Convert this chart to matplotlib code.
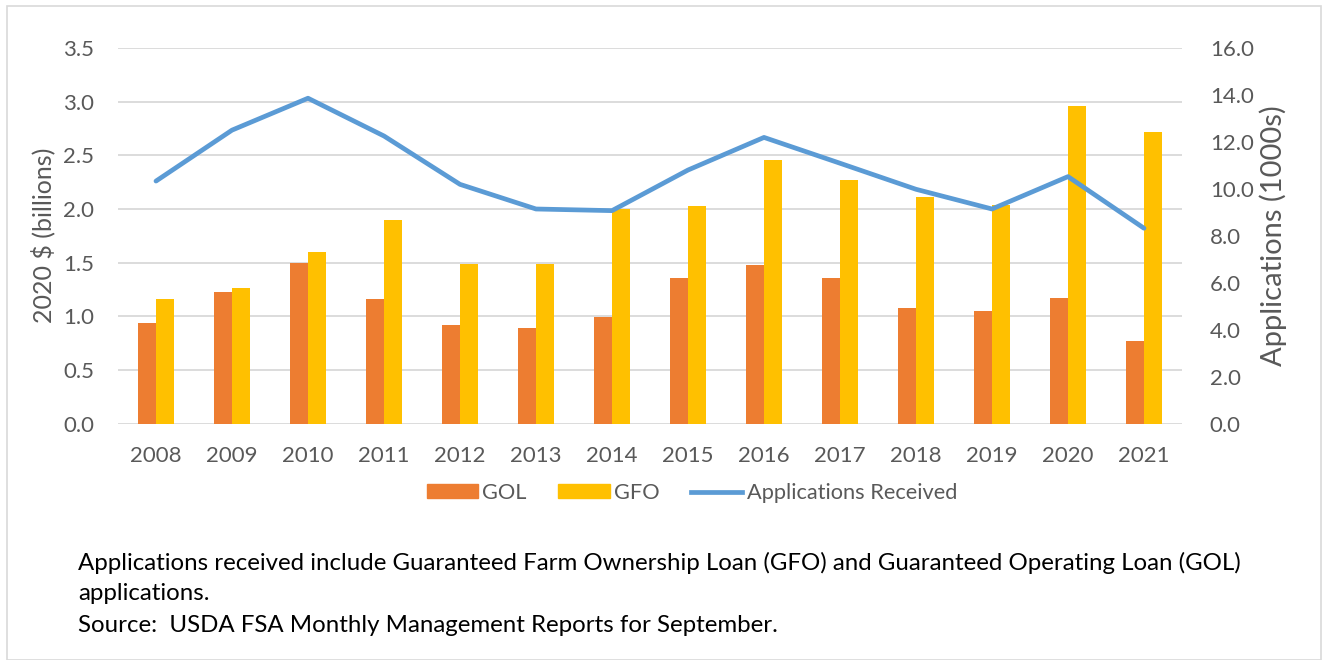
import numpy as np
import matplotlib.pyplot as plt
from matplotlib.patches import Patch, Rectangle
from matplotlib.lines import Line2D
from matplotlib.ticker import FormatStrFormatter

plt.rcParams['font.family'] = ['Lato', 'DejaVu Sans']

# data
years = ['2008', '2009', '2010', '2011', '2012', '2013', '2014',
         '2015', '2016', '2017', '2018', '2019', '2020', '2021']
gol = [0.94, 1.23, 1.50, 1.16, 0.92, 0.89, 0.99, 1.36, 1.48, 1.36, 1.08, 1.05, 1.17, 0.77]
gfo = [1.16, 1.26, 1.60, 1.90, 1.49, 1.49, 2.00, 2.03, 2.46, 2.27, 2.11, 2.04, 2.96, 2.72]
apps = [10.33, 12.50, 13.86, 12.25, 10.19, 9.14, 9.07, 10.80, 12.19, 11.09, 9.98, 9.14, 10.52, 8.32]

c_gol = '#ED7D31'
c_gfo = '#FFC000'
c_app = '#5B9BD5'
c_txt = '#595959'
c_grid = '#D9D9D9'

fig = plt.figure(figsize=(13.28, 6.6), dpi=100)
ax = fig.add_axes([118 / 1328, 1 - 423.5 / 660, 1064 / 1328, 375.5 / 660])

x = np.arange(len(years))
w = 0.237
ax.bar(x - w / 2, gol, width=w, color=c_gol, zorder=2)
ax.bar(x + w / 2, gfo, width=w, color=c_gfo, zorder=2)
ax.set_xlim(-0.5, len(years) - 0.5)
ax.set_ylim(0, 3.5)
ax.set_yticks(np.arange(0, 3.51, 0.5))
ax.yaxis.set_major_formatter(FormatStrFormatter('%.1f'))
ax.set_xticks(x)
ax.set_xticklabels(years)
ax.grid(axis='y', color=c_grid, linewidth=1.3, zorder=0)
ax.set_axisbelow(True)
ax.tick_params(length=0, labelsize=16, colors=c_txt)
ax.yaxis.set_tick_params(pad=17)
ax.xaxis.set_tick_params(pad=16)
for s in ax.spines.values():
    s.set_visible(False)
ax.set_ylabel('2020 $ (billions)', fontsize=18, color=c_txt, labelpad=6)

ax2 = ax.twinx()
ax2.plot(x, apps, color=c_app, linewidth=3.4, solid_capstyle='round', zorder=3)
ax2.set_ylim(0, 16)
ax2.set_yticks(np.arange(0, 16.1, 2))
ax2.yaxis.set_major_formatter(FormatStrFormatter('%.1f'))
ax2.tick_params(length=0, labelsize=16, colors=c_txt)
ax2.yaxis.set_tick_params(pad=20)
for s in ax2.spines.values():
    s.set_visible(False)
ax2.set_ylabel('Applications (1000s)', fontsize=21, color=c_txt, labelpad=4)

handles = [Patch(color=c_gol, label='GOL'),
           Patch(color=c_gfo, label='GFO'),
           Line2D([0], [0], color=c_app, linewidth=3.4, label='Applications Received')]
fig.legend(handles=handles, loc='center', bbox_to_anchor=(692 / 1328, 1 - 493 / 660),
           ncol=3, frameon=False, fontsize=15.7, labelcolor=c_txt,
           handlelength=2.35, handleheight=0.6, handletextpad=0.2, columnspacing=1.45)

notes = ['Applications received include Guaranteed Farm Ownership Loan (GFO) and Guaranteed Operating Loan (GOL)',
         'applications.',
         'Source:  USDA FSA Monthly Management Reports for September.']
for i, line in enumerate(notes):
    fig.text(78 / 1328, 1 - (563 + i * 31) / 660, line, fontsize=17.3, color='black', va='center')

fig.patches.append(Rectangle((7 / 1328, 0), 1314 / 1328, 654 / 660, transform=fig.transFigure,
                             fill=False, edgecolor='#D9D9D9', linewidth=1.2))

fig.savefig('out.png', dpi=100)
